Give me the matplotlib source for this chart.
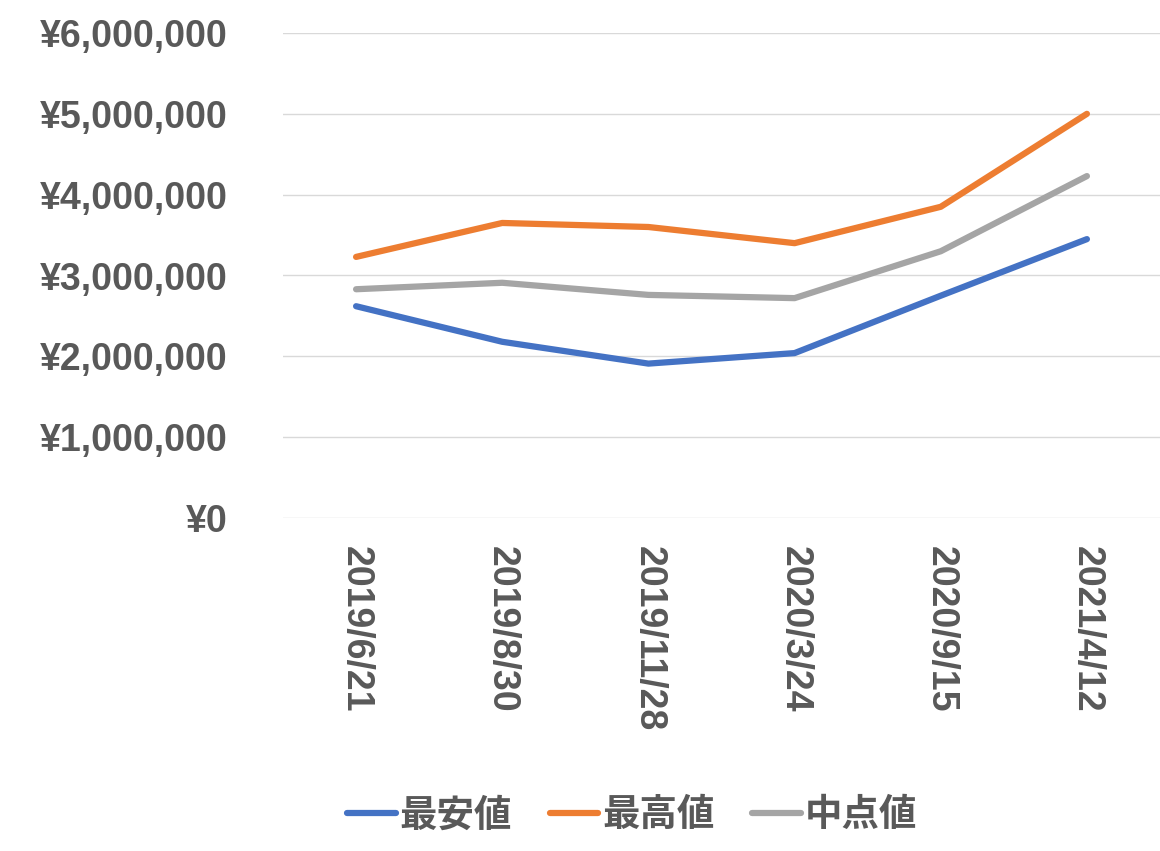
import matplotlib
matplotlib.use("Agg")
import matplotlib.pyplot as plt
from matplotlib.ticker import FuncFormatter

dates = ["2019/6/21", "2019/8/30", "2019/11/28", "2020/3/24", "2020/9/15", "2021/4/12"]
low = [2620000, 2180000, 1910000, 2040000, 2750000, 3450000]
high = [3230000, 3650000, 3600000, 3400000, 3850000, 5000000]
mid = [2830000, 2910000, 2760000, 2720000, 3300000, 4230000]
names = ["最安値", "最高値", "中点値"]
colors = ["#4472C4", "#ED7D31", "#A5A5A5"]

plt.rcParams["font.family"] = ["Noto Sans CJK JP"]
fig = plt.figure(figsize=(11.6, 8.51), dpi=100)
ax = fig.add_axes([283/1160, 1-518/851, 877/1160, 485/851])
x = [i + 0.5 for i in range(len(dates))]
for vals, n, c in zip([low, high, mid], names, colors):
    ax.plot(x, vals, color=c, lw=4.5, label=n, solid_capstyle="round")
ax.set_xlim(0, 6)
ax.set_ylim(0, 6000000)
ax.set_yticks(range(0, 6000001, 1000000))
ax.yaxis.set_major_formatter(FuncFormatter(lambda v, p: f"¥{int(v):,}"))
ax.set_xticks(x)
ax.set_xticklabels(dates, rotation=-90)
ax.grid(axis="y", color="#D9D9D9", lw=1)
ax.set_axisbelow(True)
for s in ax.spines.values():
    s.set_visible(False)
ax.tick_params(length=0, colors="#595959", labelsize=27)
ax.tick_params(axis="y", pad=40)
ax.tick_params(axis="x", pad=20)
for t in ax.get_xticklabels() + ax.get_yticklabels():
    t.set_fontweight("bold")
    t.set_fontfamily("Liberation Sans")
leg = fig.legend(loc="lower center", bbox_to_anchor=(0.545, -0.02), ncol=3, frameon=False,
                 prop={"size": 27, "weight": "bold"}, handlelength=1.3, columnspacing=1.0, handletextpad=0.1)
for t in leg.get_texts():
    t.set_color("#595959")
fig.savefig("out.png")
